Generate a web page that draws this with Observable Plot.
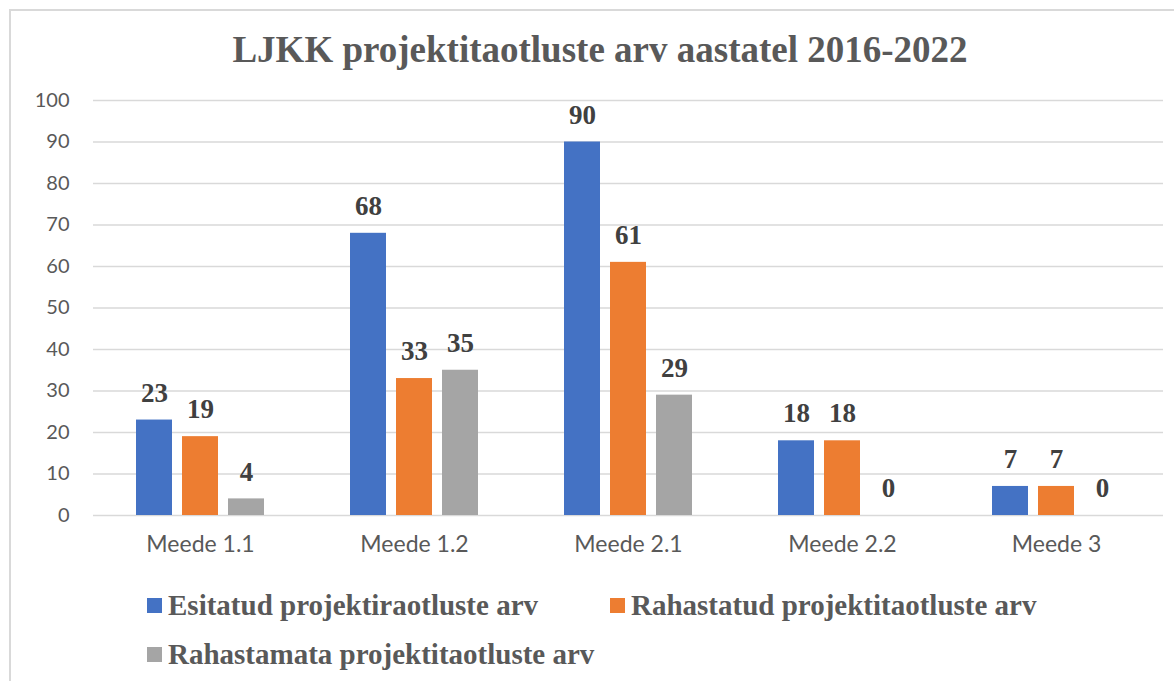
<!DOCTYPE html>
<html><head><meta charset="utf-8">
<script src="https://cdn.jsdelivr.net/npm/d3@7"></script>
<script src="https://cdn.jsdelivr.net/npm/@observablehq/plot@0.6"></script>
<style>
body{margin:0;background:#fff;}
#wrap{position:relative;width:1174px;height:681px;overflow:hidden;background:#fff;}
#frame{position:absolute;left:9px;top:9px;width:1180px;height:700px;border:2px solid #d9d9d9;box-sizing:border-box;}
#title{position:absolute;left:0;width:1200px;top:28px;text-align:center;font-family:"Liberation Serif","Times New Roman",serif;font-weight:bold;font-size:37px;color:#595959;white-space:nowrap;}
#chart{position:absolute;left:0;top:0;}
.leg{position:absolute;font-family:"Liberation Serif","Times New Roman",serif;font-weight:bold;font-size:29px;color:#595959;white-space:nowrap;line-height:1;}
.sw{position:absolute;width:15px;height:15px;}
</style></head>
<body><div id="wrap"><div id="frame"></div><div id="chart"></div><div id="title">LJKK projektitaotluste arv aastatel 2016-2022</div><div id="legend"></div></div>
<script>
const categories = ["Meede 1.1","Meede 1.2","Meede 2.1","Meede 2.2","Meede 3"];
const seriesNames = ["Esitatud projektiraotluste arv","Rahastatud projektitaotluste arv","Rahastamata projektitaotluste arv"];
const esitatud = [23,68,90,18,7];
const rahastatud = [19,33,61,18,7];
const rahastamata = [4,35,29,0,0];
const colors = ["#4472C4","#ED7D31","#A5A5A5"];
const yTicks = [0,10,20,30,40,50,60,70,80,90,100];

const seriesValues = [esitatud, rahastatud, rahastamata];
const data = [];
categories.forEach((c,i)=>seriesValues.forEach((vals,s)=>data.push({cat:c, series:seriesNames[s], value:vals[i]})));

const chart = Plot.plot({
  width:1174, height:580,
  marginTop:100, marginBottom:65, marginLeft:92, marginRight:10,
  style:{fontFamily:"Lato, sans-serif", fontSize:"21px", color:"#595959", background:"transparent", overflow:"visible"},
  fx:{domain:categories, padding:0, label:null},
  x:{domain:seriesNames, paddingInner:0.213, paddingOuter:0.885, axis:null},
  y:{domain:[0,100], ticks:yTicks, label:null},
  color:{domain:seriesNames, range:colors},
  marks:[
    Plot.ruleY(yTicks,{stroke:"#d9d9d9", strokeWidth:1.5}),
    Plot.axisY({ticks:yTicks, tickSize:0, tickPadding:24, fontSize:20, fill:"#595959", label:null}),
    Plot.axisFx({anchor:"bottom", tickSize:0, tickPadding:20, fontSize:23, fill:"#595959", label:null}),
    Plot.barY(data,{fx:"cat", x:"series", y:"value", fill:"series"}),
    Plot.text(data,{fx:"cat", x:"series", y:"value", text:d=>String(d.value), dy:-27, fontFamily:"Liberation Serif, serif", fontWeight:"bold", fontSize:27, fill:"#404040"})
  ]
});
document.getElementById("chart").appendChild(chart);

const leg = document.getElementById("legend");
const pos = [[147,598],[610,598],[147,647]];
seriesNames.forEach((n,i)=>{
  const sw=document.createElement("div"); sw.className="sw"; sw.style.background=colors[i];
  sw.style.left=pos[i][0]+"px"; sw.style.top=pos[i][1]+"px"; leg.appendChild(sw);
  const t=document.createElement("div"); t.className="leg"; t.textContent=n;
  t.style.left=(pos[i][0]+21)+"px"; t.style.top=(pos[i][1]-7)+"px"; leg.appendChild(t);
});
</script></body></html>
